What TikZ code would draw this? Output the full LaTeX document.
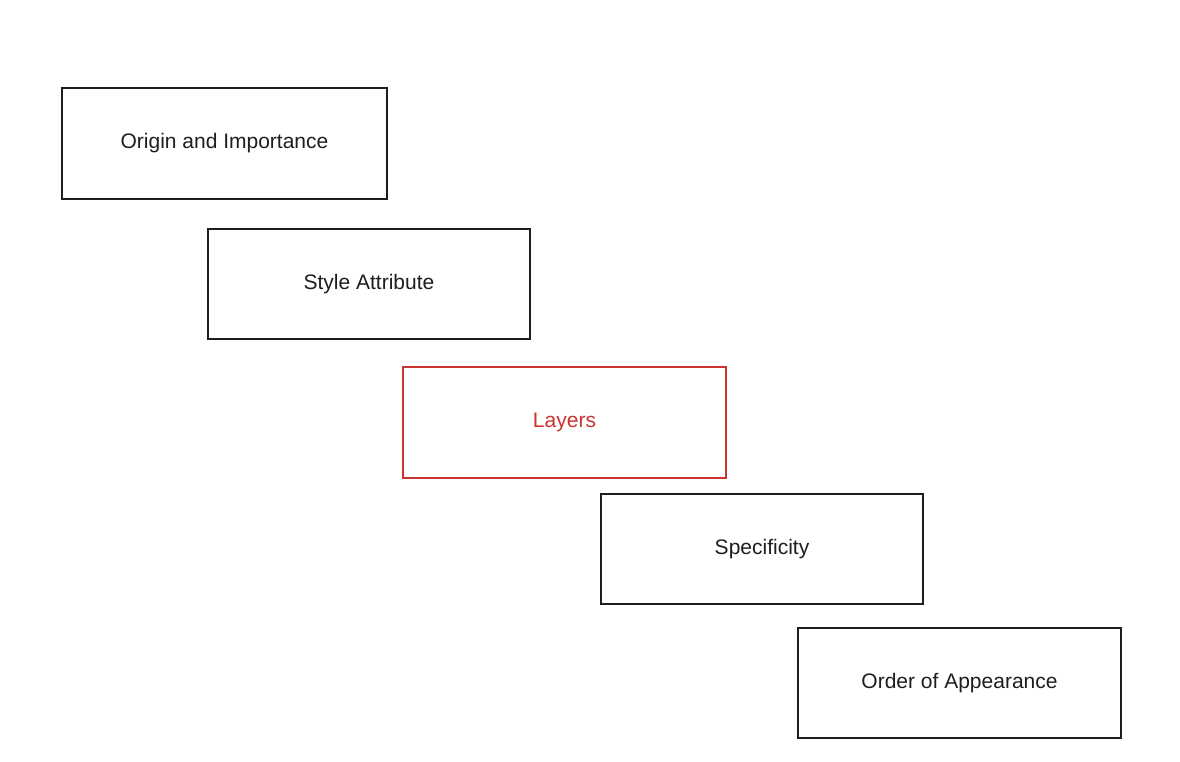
\documentclass[tikz,border=0pt]{standalone}
\usepackage{fontspec}
\setmainfont{Liberation Sans}
\definecolor{ink}{HTML}{1E1E1E}
\definecolor{redink}{HTML}{CC3333}
\begin{document}
\begin{tikzpicture}[x=1pt,y=-1pt,
  card/.style={draw=ink,line width=1.3pt,minimum width=#1,minimum height=110pt,inner sep=0pt,font=\fontsize{21}{24}\selectfont,text=ink},
  card/.default=322pt,
  hot/.style={draw=redink,text=redink,line width=1.8pt}]
\useasboundingbox[fill=white] (0,0) rectangle (1180,762);
\node[card=325pt,minimum height=111pt] (origin) at (224.5,143.5) {Origin and Importance};
\node[card] (style) at (369,284) {Style Attribute};
\node[card=323pt,minimum height=111pt,hot] (layers) at (564.5,422.5) {Layers};
\node[card] (spec) at (762,549) {Specificity};
\node[card=323pt] (order) at (959.5,683) {Order of Appearance};
\end{tikzpicture}
\end{document}
